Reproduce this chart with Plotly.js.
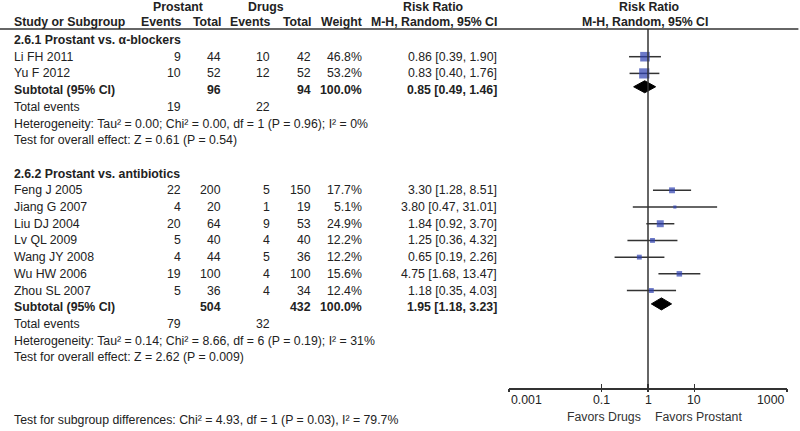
<!DOCTYPE html>
<html><head><meta charset="utf-8">
<script src="https://cdn.plot.ly/plotly-3.0.1.min.js"></script>
<style>html,body{margin:0;padding:0;background:#fff}</style>
</head><body><div id="chart" style="width:800px;height:431px"></div>
<script>
// ---- data ----
const studies1 = ["Li FH 2011", "Yu F 2012"];
const prosEv1 = [9, 10];
const prosTot1 = [44, 52];
const drugEv1 = [10, 12];
const drugTot1 = [42, 52];
const weight1 = [46.8, 53.2];
const rr1 = [0.86, 0.83];
const lo1 = [0.39, 0.40];
const hi1 = [1.90, 1.76];

const studies2 = ["Feng J 2005", "Jiang G 2007", "Liu DJ 2004", "Lv QL 2009", "Wang JY 2008", "Wu HW 2006", "Zhou SL 2007"];
const prosEv2 = [22, 4, 20, 5, 4, 19, 5];
const prosTot2 = [200, 20, 64, 40, 44, 100, 36];
const drugEv2 = [5, 1, 9, 4, 5, 4, 4];
const drugTot2 = [150, 19, 53, 40, 36, 100, 34];
const weight2 = [17.7, 5.1, 24.9, 12.2, 12.2, 15.6, 12.4];
const rr2 = [3.30, 3.80, 1.84, 1.25, 0.65, 4.75, 1.18];
const lo2 = [1.28, 0.47, 0.92, 0.36, 0.19, 1.68, 0.35];
const hi2 = [8.51, 31.01, 3.70, 4.32, 2.26, 13.47, 4.03];

const groupTitles = ["2.6.1 Prostant vs. α-blockers", "2.6.2 Prostant vs. antibiotics"];
const subProsTot = [96, 504];
const subDrugTot = [94, 432];
const subRR = [0.85, 1.95];
const subLo = [0.49, 1.18];
const subHi = [1.46, 3.23];
const totEvPros = [19, 79];
const totEvDrug = [22, 32];
const hetText = ["Heterogeneity: Tau² = 0.00; Chi² = 0.00, df = 1 (P = 0.96); I² = 0%",
                 "Heterogeneity: Tau² = 0.14; Chi² = 8.66, df = 6 (P = 0.19); I² = 31%"];
const testText = ["Test for overall effect: Z = 0.61 (P = 0.54)",
                  "Test for overall effect: Z = 2.62 (P = 0.009)"];
const subgroupTest = "Test for subgroup differences: Chi² = 4.93, df = 1 (P = 0.03), I² = 79.7%";
const tickVals = [0.001, 0.1, 1, 10, 1000];
const tickText = ["0.001", "0.1", "1", "10", "1000"];
const favorsLeft = "Favors Drugs";
const favorsRight = "Favors Prostant";

// ---- layout helpers ----
const TXT = "#222";
const FONT = "Arial, 'Liberation Sans', sans-serif";
const FS = 12.3;
const ann = [];
function px(x) { return x / 800; }
function addT(text, x, row, anchor, bold, color) {
  ann.push({text: bold ? "<b>" + text + "</b>" : text, x: px(x), xref: "paper", y: row, yref: "y",
    xanchor: anchor, yanchor: "middle", showarrow: false,
    font: {family: FONT, size: FS, color: color || TXT}});
}
const col = {study: 12, pe: 183, pt: 223, de: 272, dt: 313, w: 364, ci: 499};
const fmt = v => v.toFixed(2);

// header
addT("Prostant", 178, -1.98, "center", true);
addT("Drugs", 266, -1.98, "center", true);
addT("Risk Ratio", 433, -1.98, "center", true);
addT("Risk Ratio", 649, -1.98, "center", true);
addT("Study or Subgroup", col.study, -1.08, "left", true);
addT("Events", col.pe, -1.08, "right", true);
addT("Total", col.pt, -1.08, "right", true);
addT("Events", col.de, -1.08, "right", true);
addT("Total", col.dt, -1.08, "right", true);
addT("Weight", col.w, -1.08, "right", true);
addT("M-H, Random, 95% CI", col.ci, -1.08, "right", true);
addT("M-H, Random, 95% CI", 645, -1.08, "center", true);

const traces = [];
const groups = [
  {s: studies1, pe: prosEv1, pt: prosTot1, de: drugEv1, dt: drugTot1, w: weight1, rr: rr1, lo: lo1, hi: hi1, start: 0},
  {s: studies2, pe: prosEv2, pt: prosTot2, de: drugEv2, dt: drugTot2, w: weight2, rr: rr2, lo: lo2, hi: hi2, start: 8}
];
groups.forEach((g, gi) => {
  let r = g.start;
  addT(groupTitles[gi], col.study, r, "left", true);
  const rows = [];
  g.s.forEach((name, i) => {
    r++;
    rows.push(r);
    addT(name, col.study, r, "left");
    addT(String(g.pe[i]), col.pe, r, "right");
    addT(String(g.pt[i]), col.pt, r, "right");
    addT(String(g.de[i]), col.de, r, "right");
    addT(String(g.dt[i]), col.dt, r, "right");
    addT(g.w[i].toFixed(1) + "%", col.w, r, "right");
    addT(fmt(g.rr[i]) + " [" + fmt(g.lo[i]) + ", " + fmt(g.hi[i]) + "]", col.ci, r, "right");
    traces.push({type: "scatter", mode: "lines", x: [g.lo[i], g.hi[i]], y: [r, r],
      line: {color: "#333", width: 1.5}, hoverinfo: "skip", showlegend: false});
  });
  traces.push({type: "scatter", mode: "markers", x: g.rr, y: rows,
    marker: {symbol: "square", color: "#2d40b0", size: g.w.map(w => 1.4 * Math.sqrt(w)), line: {width: 0}},
    hoverinfo: "skip", showlegend: false});
  r++;
  addT("Subtotal (95% CI)", col.study, r, "left", true);
  addT(String(subProsTot[gi]), col.pt, r, "right", true);
  addT(String(subDrugTot[gi]), col.dt, r, "right", true);
  addT("100.0%", col.w, r, "right", true);
  addT(fmt(subRR[gi]) + " [" + fmt(subLo[gi]) + ", " + fmt(subHi[gi]) + "]", col.ci, r, "right", true);
  const h = 0.36, c = r - 0.2;
  traces.push({type: "scatter", mode: "lines", fill: "toself", fillcolor: "#000",
    x: [subLo[gi], subRR[gi], subHi[gi], subRR[gi], subLo[gi]],
    y: [c, c - h, c, c + h, c],
    line: {color: "#000", width: 1}, hoverinfo: "skip", showlegend: false});
  r++;
  addT("Total events", col.study, r, "left");
  addT(String(totEvPros[gi]), col.pe, r, "right");
  addT(String(totEvDrug[gi]), col.de, r, "right");
  r++;
  addT(hetText[gi], col.study, r, "left");
  r++;
  addT(testText[gi], col.study, r, "left");
});
addT(subgroupTest, col.study, 22.75, "left");
addT(favorsLeft, 643, 22.55, "right", false, "#333");
addT(favorsRight, 653, 22.55, "left", false, "#333");

// axis tick labels (end labels aligned inward, as in the reference)
tickVals.forEach((v, i) => {
  const anchor = i === 0 ? "left" : (i === tickVals.length - 1 ? "right" : "center");
  ann.push({text: tickText[i], x: Math.log10(v), xref: "x", y: 21.58, yref: "y",
    xanchor: anchor, yanchor: "middle", showarrow: false,
    font: {family: FONT, size: FS, color: "#222"}});
});

const axisPos = 1 - 388 / 431;
const headerLineY = 1 - 29 / 431;
const xr = [-3, 3];
const dom = [509 / 800, 787 / 800];
const layout = {
  width: 800, height: 431,
  margin: {l: 0, r: 0, t: 0, b: 0},
  paper_bgcolor: "#fff", plot_bgcolor: "rgba(0,0,0,0)",
  showlegend: false, hovermode: false,
  xaxis: {type: "log", range: xr, domain: dom, anchor: "free", position: axisPos,
    showline: true, linecolor: "#333", linewidth: 1.5, ticks: "",
    tickvals: tickVals, showticklabels: false, showgrid: false, zeroline: false},
  xaxis2: {type: "log", range: xr, domain: dom, anchor: "free", position: axisPos,
    overlaying: "x", matches: "x", showline: false, ticks: "inside", ticklen: 4, tickwidth: 1.5, tickcolor: "#333",
    tickvals: tickVals, showticklabels: false, showgrid: false, zeroline: false},
  xaxis3: {type: "log", range: xr, domain: dom, anchor: "free", position: axisPos,
    overlaying: "x", matches: "x", showline: false, ticks: "outside", ticklen: 3, tickwidth: 1.5, tickcolor: "#333",
    tickvals: tickVals, showticklabels: false, showgrid: false, zeroline: false},
  yaxis: {range: [23.41, -2.395], domain: [0, 1], visible: false, showgrid: false, zeroline: false},
  shapes: [
    {type: "line", xref: "paper", yref: "paper", x0: 0, x1: 0.998, y0: headerLineY, y1: headerLineY,
      line: {color: "#333", width: 1.5}},
    {type: "line", xref: "x", yref: "paper", x0: 1, x1: 1, y0: axisPos, y1: headerLineY,
      line: {color: "#333", width: 1.5}}
  ],
  annotations: ann
};
traces.push({type: "scatter", mode: "markers", x: [1], y: [0], xaxis: "x2", marker: {opacity: 0}, hoverinfo: "skip", showlegend: false});
traces.push({type: "scatter", mode: "markers", x: [1], y: [0], xaxis: "x3", marker: {opacity: 0}, hoverinfo: "skip", showlegend: false});
Plotly.newPlot("chart", traces, layout, {displayModeBar: false, staticPlot: true});
</script></body></html>
